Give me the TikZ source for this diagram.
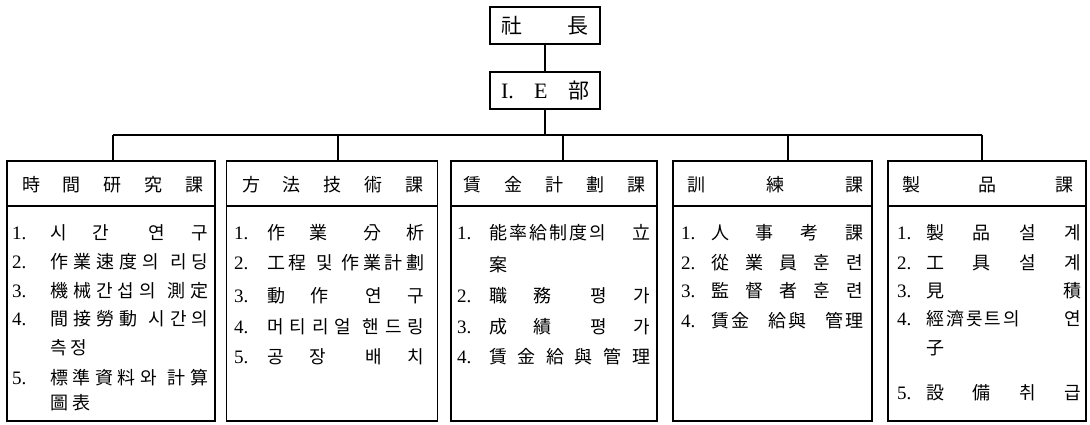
\documentclass[tikz,border=0pt]{standalone}
\usepackage{fontspec}
\newfontfamily\kr{Noto Sans CJK KR}
\newfontfamily\numf{Liberation Serif}
\newcommand\gp{\hfill}
\newcommand\ws{\hspace{6pt}\hfill}
\newcommand\bg{\hskip 0pt plus 1.5fill\relax}
\newcommand\tk{\kern2pt}
\newcommand\entry[7]{%
  \node[numtxt] (#1n) at (#2,#4+7) {#6};
  \node[itemtxt] (#1t) at (#3,#4+7) {\makebox[#5pt][s]{#7}};}
\newcommand\cont[4]{\node[itemtxt] (#1) at (#2,#3+7) {#4};}
\begin{document}
\begin{tikzpicture}[x=1pt,y=-1pt,
  frame/.style={draw,line width=1.2pt,inner sep=0pt,outer sep=0pt},
  head/.style={inner sep=0pt,anchor=base west,font=\kr\fontsize{18}{18}\selectfont},
  itemtxt/.style={inner sep=0pt,anchor=base west,font=\kr\fontsize{18}{18}\selectfont},
  numtxt/.style={inner sep=0pt,anchor=base west,font=\numf\fontsize{19}{19}\selectfont},
  link/.style={line width=1.2pt}]
\useasboundingbox (0,0) rectangle (1090,424);

% top boxes
\node[frame,minimum width=110pt,minimum height=37pt] (boss) at (545,25.5)
  {\kr\fontsize{21}{21}\selectfont\makebox[88pt][s]{社\hfill 長}};
\node[frame,minimum width=110pt,minimum height=37pt] (ie) at (545,90.5)
  {\makebox[88pt][s]{\numf\fontsize{22}{22}\selectfont I.\hfill E\hfill {\kr\fontsize{21}{21}\selectfont 部}}};

% column boxes
\node[frame,minimum width=208pt,minimum height=260pt] (c1) at (111,291) {};
\node[frame,minimum width=211pt,minimum height=260pt] (c2) at (332,291) {};
\node[frame,minimum width=206pt,minimum height=260pt] (c3) at (554,291) {};
\node[frame,minimum width=199pt,minimum height=260pt] (c4) at (772.5,291) {};
\node[frame,minimum width=198pt,minimum height=260pt] (c5) at (987,291) {};

% connectors
\coordinate (t1) at (113,135);
\coordinate (t2) at (338,135);
\coordinate (t3) at (563,135);
\coordinate (t4) at (788,135);
\coordinate (t5) at (982,135);
\draw[link] (boss.south) -- (ie.north);
\draw[link] (ie.south) -- (ie.south |- t1);
\draw[link] (t1) -- (t5);
\draw[link] (t1) -- (t1 |- c1.north);
\draw[link] (t2) -- (t2 |- c2.north);
\draw[link] (t3) -- (t3 |- c3.north);
\draw[link] (t4) -- (t4 |- c4.north);
\draw[link] (t5) -- (t5 |- c5.north);

% header separators
\foreach \c in {c1,c2,c3,c4,c5}
  \draw[link] (\c.west |- 0,206) -- (\c.east |- 0,206);

% headers
\node[head] (h1) at (22,191) {\makebox[181pt][s]{時\gp 間\gp 研\gp 究\gp 課}};
\node[head] (h2) at (242,191) {\makebox[181pt][s]{方\gp 法\gp 技\gp 術\gp 課}};
\node[head] (h3) at (463,191) {\makebox[182pt][s]{賃\gp 金\gp 計\gp 劃\gp 課}};
\node[head] (h4) at (687,191) {\makebox[176pt][s]{訓\gp 練\gp 課}};
\node[head] (h5) at (902,191) {\makebox[171pt][s]{製\gp 品\gp 課}};

% box 1
\entry{a1}{12}{50}{232}{158}{1.}{시\gp 간\bg 연\gp 구}
\entry{a2}{12}{50}{261}{158}{2.}{作\gp 業\gp 速\gp 度\gp 의\ws 리\gp 딩}
\entry{a3}{12}{50}{290}{158}{3.}{機\gp 械\gp 간\gp 섭\gp 의\ws 測\gp 定}
\entry{a4}{12}{50}{318}{158}{4.}{間\gp 接\gp 勞\gp 動\ws 시\gp 간\gp 의}
\cont{a4b}{50}{347}{측\tk\tk 정}
\entry{a5}{12}{50}{377}{158}{5.}{標\gp 準\gp 資\gp 料\gp 와\ws 計\gp 算}
\cont{a5b}{50}{402}{圖\tk\tk 表}

% box 2
\entry{b1}{234}{267}{232}{157}{1.}{作\gp 業\bg 分\gp 析}
\entry{b2}{234}{267}{262}{157}{2.}{工\gp 程\ws 및\ws 作\gp 業\gp 計\gp 劃}
\entry{b3}{234}{267}{295}{157}{3.}{動\gp 作\bg 연\gp 구}
\entry{b4}{234}{267}{326}{157}{4.}{머\gp 티\gp 리\gp 얼\ws 핸\gp 드\gp 링}
\entry{b5}{234}{267}{356}{157}{5.}{공\gp 장\bg 배\gp 치}

% box 3
\entry{d1}{457}{489}{232}{161}{1.}{能\tk 率\tk 給\tk 制\tk 度\tk 의\hfill 立}
\cont{d1b}{489}{264}{案}
\entry{d2}{457}{489}{295}{161}{2.}{職\gp 務\bg 평\gp 가}
\entry{d3}{457}{489}{326}{161}{3.}{成\gp 績\bg 평\gp 가}
\entry{d4}{457}{489}{356}{161}{4.}{賃\gp 金\gp 給\gp 與\gp 管\gp 理}

% box 4
\entry{e1}{681}{711}{232}{152}{1.}{人\gp 事\gp 考\gp 課}
\entry{e2}{681}{711}{262}{152}{2.}{從\gp 業\gp 員\gp 훈\gp 련}
\entry{e3}{681}{711}{290}{152}{3.}{監\gp 督\gp 者\gp 훈\gp 련}
\entry{e4}{681}{711}{320}{152}{4.}{賃\tk 金\gp 給\tk 與\gp 管\tk 理}

% box 5
\entry{f1}{897}{926}{232}{155}{1.}{製\gp 品\gp 설\gp 계}
\entry{f2}{897}{926}{262}{155}{2.}{工\gp 具\gp 설\gp 계}
\entry{f3}{897}{926}{290}{155}{3.}{見\hfill 積}
\entry{f4}{897}{926}{318}{155}{4.}{經\tk 濟\tk 롯\tk 트\tk 의\hfill 연}
\cont{f4b}{926}{347}{子}
\entry{f5}{897}{926}{392}{155}{5.}{設\gp 備\gp 취\gp 급}
\end{tikzpicture}
\end{document}
